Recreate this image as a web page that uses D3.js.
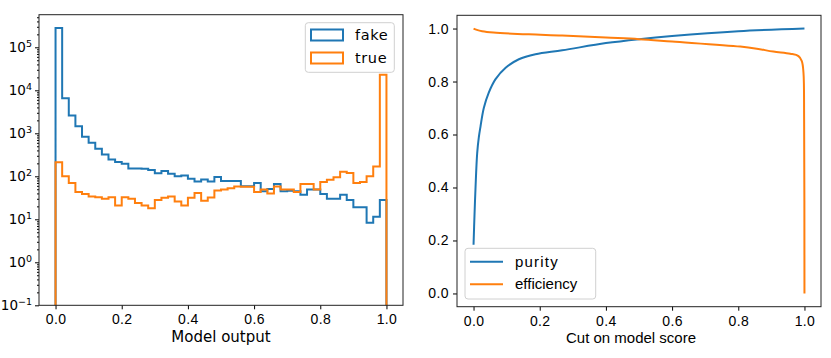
<!DOCTYPE html>
<html>
<head>
<meta charset="utf-8">
<script src="https://cdn.jsdelivr.net/npm/d3@7"></script>
<style>
  body { margin: 0; background: #fff; }
  svg { display: block; }
</style>
</head>
<body>
<svg id="chart" width="831" height="358"></svg>
<script>
// histogram: 50 bins on [0, 1]
const binCount = 50;
const fakeCounts = [280000, 6500, 2600, 1450, 830, 600, 440, 320, 245, 215,
  195, 152, 152, 150, 140, 118, 132, 115, 100, 105,
  88, 76, 84, 76, 96, 78, 78, 78, 59, 59,
  70, 45, 51, 66, 45, 46, 45, 37, 49, 49,
  39, 30, 30, 37, 28, 19, 19, 8.3, 11.5, 28];
const trueCounts = [213, 100, 70, 43, 39, 34, 32.5, 30, 32.5, 21,
  32.5, 30, 24, 21, 18, 28, 31.6, 34, 26, 21,
  31.6, 41, 27, 32, 47, 49, 53, 58, 57, 57,
  43, 49, 40, 58, 49, 49, 43, 66, 66, 49,
  74, 83, 95, 127, 120, 70, 74, 100, 170, 23000];
const histSeries = [
  { name: 'fake', counts: fakeCounts, color: '#1f77b4' },
  { name: 'true', counts: trueCounts, color: '#ff7f0e' },
];
const logTicks = [0.1, 1, 10, 100, 1000, 10000, 100000];
const logTickExp = ['\u22121', '0', '1', '2', '3', '4', '5'];

// purity / efficiency vs cut
const purityCut = [0, 0.003, 0.006, 0.011, 0.016, 0.021, 0.031, 0.046, 0.066, 0.097,
  0.137, 0.187, 0.268, 0.4, 0.5, 0.6, 0.8, 1.0];
const purityVal = [0.184, 0.30, 0.40, 0.53, 0.59, 0.63, 0.70, 0.758, 0.808, 0.852,
  0.884, 0.903, 0.918, 0.945, 0.96, 0.972, 0.99, 1.0];
const effCut = [0, 0.01, 0.026, 0.06, 0.167, 0.268, 0.4, 0.5, 0.6, 0.806,
  0.856, 0.906, 0.957, 0.982, 0.992, 0.997, 0.999, 1.0];
const effVal = [1.0, 0.995, 0.990, 0.985, 0.978, 0.974, 0.966, 0.96, 0.951, 0.932,
  0.924, 0.913, 0.905, 0.896, 0.877, 0.834, 0.657, 0.0];
const linTicks = [0, 0.2, 0.4, 0.6, 0.8, 1.0];

const svg = d3.select('svg#chart');
const fmt = d3.format('.1f');
const tickFont = 'Liberation Sans';

// ---------- left panel ----------
const left = svg.append('g').attr('font-family', 'DejaVu Sans');
const xL = d3.scaleLinear().domain([-0.05, 1.05]).range([39, 403]);
const yL = d3.scaleLog().domain([0.1, 5.73e5]).range([305.3, 14.7]);
const edges = d3.range(binCount + 1).map(i => i / binCount);

histSeries.forEach(s => {
  // step outline, dropping to the floor at both ends
  const pts = [[xL(edges[0]), yL.range()[0]]];
  s.counts.forEach((c, i) => {
    pts.push([xL(edges[i]), yL(c)]);
    pts.push([xL(edges[i + 1]), yL(c)]);
  });
  pts.push([xL(edges[binCount]), yL.range()[0]]);
  left.append('path')
    .attr('d', d3.line()(pts))
    .attr('fill', 'none')
    .attr('stroke', s.color)
    .attr('stroke-width', 2)
    .attr('stroke-linejoin', 'miter');
});

const minor = [];
for (let e = -1; e < 6; e++) {
  for (let m = 2; m <= 9; m++) {
    const v = m * Math.pow(10, e);
    if (v < yL.domain()[1]) minor.push(v);
  }
}
left.append('g').attr('transform', 'translate(39,0)')
  .call(d3.axisLeft(yL).tickValues(minor).tickSize(2).tickFormat(''))
  .call(g => g.select('.domain').remove());
const yAxL = left.append('g').attr('transform', 'translate(39,0)')
  .call(d3.axisLeft(yL).tickValues(logTicks).tickSize(4).tickPadding(3).tickFormat(''))
  .call(g => g.select('.domain').remove());
yAxL.selectAll('.tick text')
  .attr('font-size', 13.5).attr('fill', '#000').attr('font-family', 'DejaVu Sans')
  .each(function(d, i) {
    const t = d3.select(this);
    t.append('tspan').text('10');
    t.append('tspan').attr('dy', '-0.55em').attr('font-size', 9.5).text(logTickExp[i]);
  });

left.append('g').attr('transform', 'translate(0,305.3)')
  .call(d3.axisBottom(xL).tickValues(linTicks).tickSize(4).tickPadding(5).tickFormat(fmt))
  .call(g => g.select('.domain').remove())
  .call(g => g.selectAll('text').attr('font-size', 14).attr('font-family', tickFont)
    .attr('letter-spacing', 0.4).attr('fill', '#000'));

left.append('rect')
  .attr('x', 39).attr('y', 14.7).attr('width', 364).attr('height', 290.6)
  .attr('fill', 'none').attr('stroke', '#222').attr('stroke-width', 1);

left.append('text')
  .attr('x', 221).attr('y', 341.5).attr('text-anchor', 'middle')
  .attr('font-size', 15).text('Model output');

const legL = left.append('g');
legL.append('rect')
  .attr('x', 305.3).attr('y', 22.7).attr('width', 89).attr('height', 49.6).attr('rx', 3)
  .attr('fill', '#fff').attr('fill-opacity', 0.8).attr('stroke', '#d0d0d0');
histSeries.forEach((s, i) => {
  legL.append('rect')
    .attr('x', 311).attr('y', 29.5 + i * 23).attr('width', 32).attr('height', 11)
    .attr('fill', 'none').attr('stroke', s.color).attr('stroke-width', 2);
  legL.append('text')
    .attr('x', 355).attr('y', 40 + i * 23)
    .attr('font-size', 14.5).attr('letter-spacing', 0.6).text(s.name);
});

// ---------- right panel ----------
const right = svg.append('g').attr('font-family', 'Liberation Sans');
const xR = d3.scaleLinear().domain([-0.05, 1.05]).range([457, 821]);
const yR = d3.scaleLinear().domain([-0.05, 1.05]).range([306.7, 15.3]);

const curves = [
  { name: 'purity', cut: purityCut, val: purityVal, color: '#1f77b4' },
  { name: 'efficiency', cut: effCut, val: effVal, color: '#ff7f0e' },
];
const line = d3.line().x(d => xR(d[0])).y(d => yR(d[1])).curve(d3.curveCatmullRom.alpha(0.5));
curves.forEach(c => {
  right.append('path')
    .attr('d', line(c.cut.map((x, i) => [x, c.val[i]])))
    .attr('fill', 'none')
    .attr('stroke', c.color)
    .attr('stroke-width', 2);
});

right.append('g').attr('transform', 'translate(457,0)')
  .call(d3.axisLeft(yR).tickValues(linTicks).tickSize(4).tickPadding(4).tickFormat(fmt))
  .call(g => g.select('.domain').remove())
  .call(g => g.selectAll('text').attr('font-size', 14).attr('font-family', tickFont)
    .attr('letter-spacing', 0.4).attr('fill', '#000'));
right.append('g').attr('transform', 'translate(0,306.7)')
  .call(d3.axisBottom(xR).tickValues(linTicks).tickSize(4).tickPadding(5).tickFormat(fmt))
  .call(g => g.select('.domain').remove())
  .call(g => g.selectAll('text').attr('font-size', 14).attr('font-family', tickFont)
    .attr('letter-spacing', 0.4).attr('fill', '#000'));

right.append('rect')
  .attr('x', 457).attr('y', 15.3).attr('width', 364).attr('height', 291.4)
  .attr('fill', 'none').attr('stroke', '#222').attr('stroke-width', 1);

right.append('text')
  .attr('x', 631).attr('y', 343).attr('text-anchor', 'middle')
  .attr('font-size', 15).text('Cut on model score');

const legR = right.append('g');
legR.append('rect')
  .attr('x', 465).attr('y', 248.3).attr('width', 130.7).attr('height', 50.7).attr('rx', 3)
  .attr('fill', '#fff').attr('fill-opacity', 0.8).attr('stroke', '#d0d0d0');
curves.forEach((c, i) => {
  legR.append('line')
    .attr('x1', 470).attr('x2', 503).attr('y1', 261.7 + i * 22.6).attr('y2', 261.7 + i * 22.6)
    .attr('stroke', c.color).attr('stroke-width', 2);
  legR.append('text')
    .attr('x', 515).attr('y', 266.5 + i * 22.6)
    .attr('font-size', 15).attr('letter-spacing', i === 0 ? 1.2 : 0).text(c.name);
});
</script>
</body>
</html>
